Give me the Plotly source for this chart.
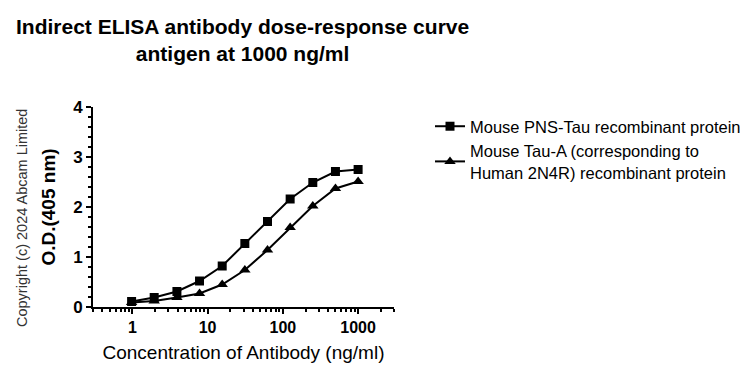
import plotly.graph_objects as go

concentration = [0.977, 1.95, 3.91, 7.81, 15.63, 31.25, 62.5, 125, 250, 500, 1000]
pns_tau = [0.11, 0.19, 0.31, 0.52, 0.82, 1.27, 1.71, 2.16, 2.49, 2.71, 2.75]
tau_a = [0.09, 0.12, 0.19, 0.27, 0.45, 0.74, 1.14, 1.59, 2.02, 2.37, 2.51]
series_names = ["Mouse PNS-Tau recombinant protein",
                "Mouse Tau-A (corresponding to<br>Human 2N4R) recombinant protein"]
x_tickvals = [1, 10, 100, 1000]
x_ticktext = ["1", "10", "100", "1000"]
y_tickvals = [0, 1, 2, 3, 4]
title_text = "<b>Indirect ELISA antibody dose-response curve<br>antigen at 1000 ng/ml</b>"

FONT = "Liberation Sans, Arial, sans-serif"

fig = go.Figure()
fig.add_trace(go.Scatter(x=concentration, y=pns_tau, mode="lines+markers", name=series_names[0],
                         line=dict(color="black", width=2),
                         marker=dict(symbol="square", size=9, color="black")))
fig.add_trace(go.Scatter(x=concentration, y=tau_a, mode="lines+markers", name=series_names[1],
                         line=dict(color="black", width=2),
                         marker=dict(symbol="triangle-up", size=10, color="black")))

fig.update_layout(
    width=755, height=379,
    margin=dict(l=93, r=361, t=107, b=72, autoexpand=False),
    paper_bgcolor="white", plot_bgcolor="white",
    font=dict(family=FONT, color="black"),
    showlegend=True,
    legend=dict(xref="container", yref="container", x=430 / 755, y=1 - 109 / 379,
                xanchor="left", yanchor="top",
                font=dict(size=16.5, family=FONT, color="black"),
                bgcolor="rgba(0,0,0,0)", itemwidth=30, tracegroupgap=4),
    xaxis=dict(type="log", range=[-0.523, 3.477],
               tickvals=x_tickvals, ticktext=x_ticktext,
               ticks="outside", ticklen=5, tickwidth=2, tickcolor="black",
               minor=dict(ticks="outside", ticklen=3, tickwidth=1.5, tickcolor="black", dtick="D1"),
               showline=True, linecolor="black", linewidth=2,
               showgrid=False, zeroline=False,
               tickfont=dict(size=16, family=FONT, color="black", weight="bold"),
               title=dict(text="Concentration of Antibody (ng/ml)", standoff=10,
                          font=dict(size=19, family=FONT, color="black"))),
    yaxis=dict(range=[0, 4], tickvals=y_tickvals,
               ticks="outside", ticklen=5, tickwidth=2, tickcolor="black",
               minor=dict(ticks="outside", ticklen=3, tickwidth=1.5, tickcolor="black", dtick=0.2),
               showline=True, linecolor="black", linewidth=2,
               showgrid=False, zeroline=False,
               tickfont=dict(size=17, family=FONT, color="black", weight="bold"),
               title=dict(text="<b>O.D.(405 nm)</b>", standoff=12,
                          font=dict(size=19, family=FONT, color="black"))),
)

fig.add_annotation(text=title_text, xref="paper", yref="paper",
                   x=(242 - 93) / 301, y=(307 - 40) / 200,
                   xanchor="center", yanchor="middle", showarrow=False,
                   font=dict(size=21, family=FONT, color="black"))

fig.add_annotation(text="Copyright (c) 2024 Abcam Limited", textangle=-90,
                   xref="paper", yref="paper", x=(22 - 93) / 301, y=(307 - 218) / 200,
                   xanchor="center", yanchor="middle", showarrow=False,
                   font=dict(size=14.5, family=FONT, color="#333333"))

fig.write_html("out.html", config={"displayModeBar": False},
               post_script="document.body.style.margin='0px';")
